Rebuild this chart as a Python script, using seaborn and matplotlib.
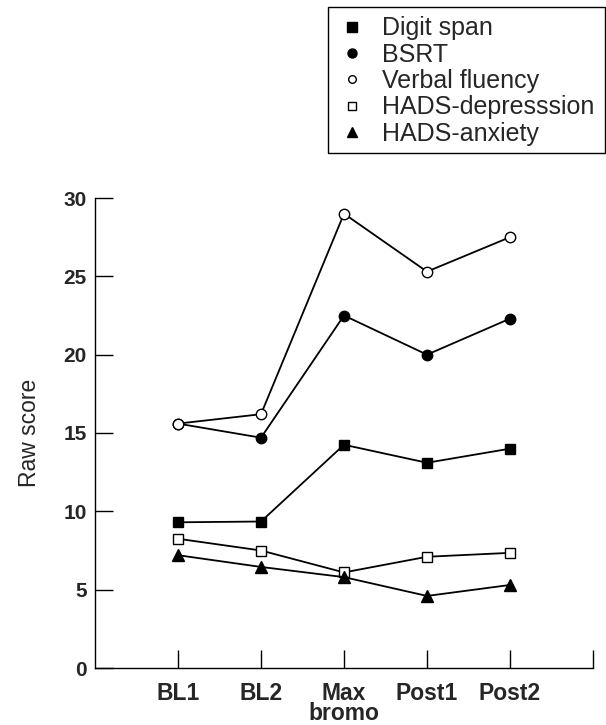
import matplotlib
matplotlib.use("Agg")
import matplotlib.pyplot as plt
from matplotlib.lines import Line2D
from matplotlib.patches import Rectangle
import seaborn as sns
import pandas as pd

timepoints = ["BL1", "BL2", "Max\nbromo", "Post1", "Post2"]
digit_span = [9.3, 9.35, 14.25, 13.1, 14.0]
bsrt = [15.6, 14.7, 22.5, 20.0, 22.3]
verbal_fluency = [15.6, 16.2, 29.0, 25.3, 27.5]
hads_depression = [8.25, 7.5, 6.1, 7.1, 7.35]
hads_anxiety = [7.2, 6.45, 5.8, 4.6, 5.3]
series_names = ["Digit span", "BSRT", "Verbal fluency", "HADS-depresssion", "HADS-anxiety"]
y_ticks = [0, 5, 10, 15, 20, 25, 30]

series_values = [digit_span, bsrt, verbal_fluency, hads_depression, hads_anxiety]
rows = []
for name, vals in zip(series_names, series_values):
    for i, v in enumerate(vals):
        rows.append({"measure": name, "pos": i + 1, "score": v})
df = pd.DataFrame(rows)

sns.set_theme(style="ticks")
plt.rcParams["font.family"] = ["Liberation Sans", "DejaVu Sans"]

styles = {
    "Digit span": dict(marker="s", mfc="black", ms=7.5, lms=6.5),
    "BSRT": dict(marker="o", mfc="black", ms=7.5, lms=6.5),
    "Verbal fluency": dict(marker="o", mfc="white", ms=7.5, lms=5.5),
    "HADS-depresssion": dict(marker="s", mfc="white", ms=7, lms=6.0),
    "HADS-anxiety": dict(marker="^", mfc="black", ms=8, lms=7.0),
}

W, H = 606, 725
fig = plt.figure(figsize=(W / 100, H / 100), dpi=100)
ax = fig.add_axes([95 / W, 1 - 668 / H, (593 - 95) / W, (668 - 198) / H])

for name in series_names:
    st = styles[name]
    sub = df[df["measure"] == name]
    sns.lineplot(data=sub, x="pos", y="score", ax=ax, color="black", linewidth=1.3,
                 marker=st["marker"], markersize=st["ms"], markerfacecolor=st["mfc"],
                 markeredgecolor="black", markeredgewidth=1.0, zorder=3)

ax.set_xlim(0, 6)
ax.set_ylim(0, 30)
ax.set_xticks([1, 2, 3, 4, 5, 6])
ax.set_xticklabels(timepoints + [""], fontsize=16.5, fontweight="bold", linespacing=0.85)
ax.set_yticks(y_ticks)
ax.set_yticklabels([str(t) for t in y_ticks], fontsize=15, fontweight="bold")
ax.tick_params(axis="both", direction="in", length=13, width=1.0, color="black")
ax.tick_params(axis="x", pad=10)
ax.tick_params(axis="y", pad=6)
ax.set_xlabel("")
ax.set_ylabel("Raw score", fontsize=16.5, labelpad=16)
for s in ["top", "right"]:
    ax.spines[s].set_visible(False)
for s in ["left", "bottom"]:
    ax.spines[s].set_linewidth(1.0)
    ax.spines[s].set_color("black")

handles = []
for name in series_names:
    st = styles[name]
    handles.append(Line2D([], [], linestyle="none", marker=st["marker"], markersize=st["lms"],
                          markerfacecolor=st["mfc"], markeredgecolor="black", markeredgewidth=1.0))
leg = fig.legend(handles, series_names, loc="upper left", bbox_to_anchor=(339 / W, 1 - 16.5 / H),
                 fontsize=18, frameon=False, labelspacing=0.09, handlelength=1.0,
                 handletextpad=0.72, borderpad=0, borderaxespad=0)
fig.patches.append(Rectangle((328 / W, 1 - 153 / H), (605 - 328) / W, (153 - 7) / H,
                             transform=fig.transFigure, fill=False, edgecolor="black",
                             linewidth=1.0))

fig.savefig("out.png", dpi=100)
